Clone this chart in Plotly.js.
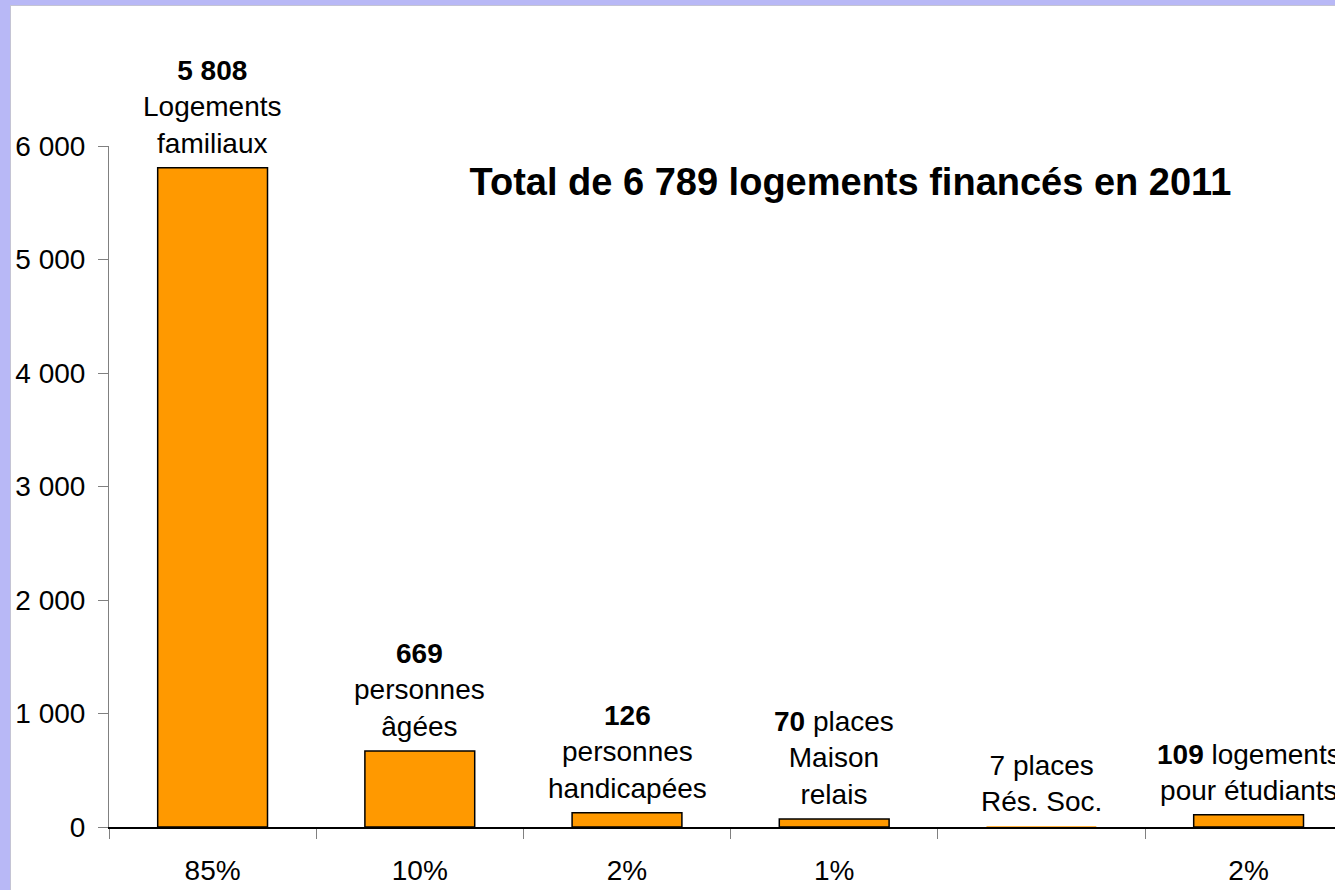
<!DOCTYPE html>
<html>
<head>
<meta charset="utf-8">
<script src="https://cdn.plot.ly/plotly-3.0.1.min.js"></script>
<style>
  html, body { margin: 0; padding: 0; background: #b8b8f6; width: 1335px; height: 890px; overflow: hidden; }
  #chart { position: absolute; left: 10px; top: 5px; width: 1325px; height: 885px;
           border-left: 1px solid #c4c4d4; border-top: 1px solid #c4c4d4; background: #ffffff; }
</style>
</head>
<body>
<div id="chart"></div>
<script>
// ---- data ----
const categories = ['Logements familiaux', 'personnes âgées', 'personnes handicapées',
                    'places Maison relais', 'places Rés. Soc.', 'logements pour étudiants'];
const values = [5808, 669, 126, 70, 7, 109];
const pctLabels = ['85%', '10%', '2%', '1%', '', '2%'];
const barLabels = [
  '<b>5 808</b><br>Logements<br>familiaux',
  '<b>669</b><br>personnes<br>âgées',
  '<b>126</b><br>personnes<br>handicapées',
  '<b>70</b> places<br>Maison<br>relais',
  '7 places<br>Rés. Soc.',
  '<b>109</b> logements<br>pour étudiants'
];
const titleText = '<b>Total de 6 789 logements financés en 2011</b>';

const FONT = 'Liberation Sans, Arial, sans-serif';

const trace = {
  type: 'bar',
  x: categories,
  y: values,
  width: 0.53,
  marker: { color: '#FF9900', line: { color: '#000000', width: [1.5, 1.5, 1.5, 1.5, 0, 1.5] } },
  hoverinfo: 'skip'
};

const annotations = categories.map((c, i) => ({
  x: c, y: values[i], xref: 'x', yref: 'y',
  text: barLabels[i], showarrow: false,
  xanchor: 'center', yanchor: 'bottom', yshift: 7,
  font: { family: FONT, size: 28, color: '#000000' }
}));

const layout = {
  width: 1324, height: 884,
  margin: { l: 98, r: 0, t: 140, b: 63 },
  paper_bgcolor: '#ffffff',
  plot_bgcolor: '#ffffff',
  separators: ', ',
  showlegend: false,
  font: { family: FONT, size: 28, color: '#000000' },
  title: {
    text: titleText,
    x: 0.634, xref: 'container', xanchor: 'center',
    y: 0.801, yref: 'container', yanchor: 'middle',
    font: { family: FONT, size: 38, color: '#000000' }
  },
  xaxis: {
    type: 'category',
    range: [-0.5, 5.417],
    tickmode: 'array',
    tickvals: categories,
    ticktext: pctLabels,
    tickson: 'boundaries',
    ticks: 'outside', ticklen: 10, tickcolor: '#808080', tickwidth: 1,
    showline: true, linecolor: '#000000', linewidth: 1.5,
    showgrid: false, zeroline: false,
    ticklabelstandoff: 18,
    tickfont: { family: FONT, size: 28, color: '#000000' },
    fixedrange: true
  },
  yaxis: {
    range: [0, 6000],
    tickmode: 'linear', tick0: 0, dtick: 1000,
    tickformat: ',d',
    ticks: 'outside', ticklen: 10, tickcolor: '#808080', tickwidth: 1,
    showline: true, linecolor: '#808080', linewidth: 1,
    showgrid: false, zeroline: false,
    ticklabelstandoff: 7,
    tickfont: { family: FONT, size: 28, color: '#000000' },
    fixedrange: true
  },
  annotations: annotations
};

Plotly.newPlot('chart', [trace], layout, { displayModeBar: false, staticPlot: true });
</script>
</body>
</html>
